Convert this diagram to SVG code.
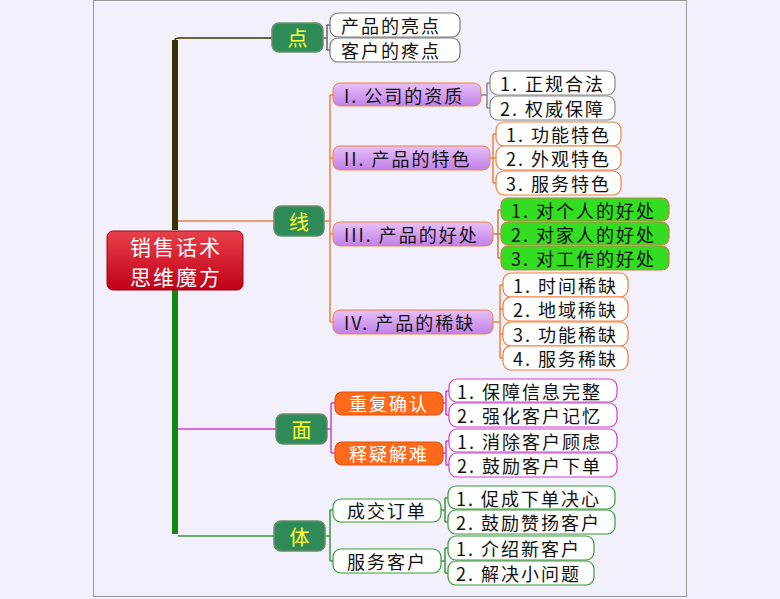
<svg xmlns="http://www.w3.org/2000/svg" width="780" height="599" viewBox="0 0 780 599">
<style>
text{font-family:"Noto Sans CJK SC","Liberation Sans",sans-serif;font-size:18px;dominant-baseline:central;letter-spacing:2px}
.b{fill:#2e8b57;stroke:#6a8f6a;stroke-width:1.5}
.bt{fill:#ffff33;font-size:20px;text-anchor:middle;letter-spacing:0}
.w{fill:#fff;stroke-width:1.2}
.g{fill:#33dd22;stroke:#c08040;stroke-width:1.2}
.o{fill:#ff6a1a;stroke:#e05010;stroke-width:1.2}
.t{fill:#111}
.ot{fill:#fff}
.r{fill:#fff;font-size:21px;text-anchor:middle;letter-spacing:2px}
.c{fill:none;stroke-width:1.5}
</style>
<defs>
<linearGradient id="rg" x1="0" y1="0" x2="0" y2="1"><stop offset="0" stop-color="#e8404a"/><stop offset="1" stop-color="#c00018"/></linearGradient>
<linearGradient id="pg" x1="0" y1="0" x2="0" y2="1"><stop offset="0" stop-color="#e8c0f8"/><stop offset="1" stop-color="#c080e8"/></linearGradient>
</defs>
<rect x="0" y="0" width="780" height="599" fill="#f2f0fa"/>
<rect x="93.5" y="0.5" width="593" height="596" fill="none" stroke="#999" stroke-width="1"/>
<g id="connectors">
<path d="M175 40 Q175 38 180 38 H272" class="c" stroke="#333300"/>
<path d="M175 230 V40" stroke="#333300" stroke-width="6" fill="none"/>
<path d="M175 290 V534" stroke="#118811" stroke-width="6" fill="none"/>
<path d="M178 221 H274" class="c" stroke="#f08040"/>
<path d="M178 429 H276" class="c" stroke="#d040d0"/>
<path d="M178 536 H274" class="c" stroke="#3a9a3a"/>
<path d="M323 38 H327 M327 25 V50 M327 25 H330 M327 50 H330" class="c" stroke="#666"/>
<path d="M324 221 H330 M330 95 V322 M330 95 H333 M330 158 H333 M330 234 H333 M330 322 H333" class="c" stroke="#f08040"/>
<path d="M481 95 H487 M487 83 V108 M487 83 H490 M487 108 H490" class="c" stroke="#888"/>
<path d="M490 158 H493 M493 134 V183 M493 134 H496 M493 158 H496 M493 183 H496" class="c" stroke="#f08040"/>
<path d="M493 234 H498 M498 210 V258 M498 210 H501 M498 234 H501 M498 258 H501" class="c" stroke="#c08040"/>
<path d="M493 322 H500 M500 285 V358 M500 285 H503 M500 309 H503 M500 334 H503 M500 358 H503" class="c" stroke="#f08040"/>
<path d="M327 429 H331 M331 403 V453 M331 403 H335 M331 453 H335" class="c" stroke="#d040d0"/>
<path d="M443 403 H446 M446 391 V415 M446 391 H449 M446 415 H449 M443 453 H446 M446 441 V465 M446 441 H449 M446 465 H449" class="c" stroke="#d040d0"/>
<path d="M325 536 H330 M330 510 V561 M330 510 H333 M330 561 H333" class="c" stroke="#3a9a3a"/>
<path d="M441 510 H445 M445 498 V522 M445 498 H448 M445 522 H448 M441 561 H445 M445 548 V573 M445 548 H448 M445 573 H448" class="c" stroke="#3a9a3a"/>
</g>
<g id="root"><rect x="107" y="231" width="136" height="59" rx="6" fill="url(#rg)" stroke="#a00010"/><text x="176" y="246" class="r">销售话术</text><text x="176" y="276" class="r">思维魔方</text></g>
<g id="dian"><rect x="272" y="23" width="51" height="29" rx="7" class="b"/><text x="297.5" y="37.5" class="bt">点</text></g>
<g id="xian"><rect x="274" y="206" width="50" height="30" rx="7" class="b"/><text x="299" y="221" class="bt">线</text></g>
<g id="mian"><rect x="276" y="414" width="51" height="30" rx="7" class="b"/><text x="301.5" y="429" class="bt">面</text></g>
<g id="ti"><rect x="274" y="521" width="51" height="30" rx="7" class="b"/><text x="299.5" y="536" class="bt">体</text></g>
<g id="d1"><rect x="330" y="13" width="130" height="24" rx="8" class="w" stroke="#777"/><text x="341" y="25" class="t">产品的亮点</text></g>
<g id="d2"><rect x="330" y="38" width="130" height="24" rx="8" class="w" stroke="#777"/><text x="341" y="50" class="t">客户的疼点</text></g>
<g id="x1"><rect x="333" y="83" width="148" height="23" rx="7" fill="url(#pg)" stroke="#f08040"/><text x="344" y="95" class="t">I. 公司的资质</text></g>
<g id="x2"><rect x="333" y="146" width="157" height="24" rx="7" fill="url(#pg)" stroke="#f08040"/><text x="344" y="158" class="t">II. 产品的特色</text></g>
<g id="x3"><rect x="333" y="222" width="160" height="24" rx="7" fill="url(#pg)" stroke="#f08040"/><text x="344" y="234" class="t">III. 产品的好处</text></g>
<g id="x4"><rect x="333" y="310" width="160" height="24" rx="7" fill="url(#pg)" stroke="#f08040"/><text x="344" y="322" class="t">IV. 产品的稀缺</text></g>
<g id="x11"><rect x="490" y="71" width="125" height="24" rx="8" class="w" stroke="#888"/><text x="500" y="83" class="t">1. 正规合法</text></g>
<g id="x12"><rect x="490" y="96" width="125" height="24" rx="8" class="w" stroke="#888"/><text x="500" y="108" class="t">2. 权威保障</text></g>
<g id="x21"><rect x="496" y="122" width="125" height="24" rx="8" class="w" stroke="#f08040"/><text x="506" y="134" class="t">1. 功能特色</text></g>
<g id="x22"><rect x="496" y="146" width="125" height="24" rx="8" class="w" stroke="#f08040"/><text x="506" y="158" class="t">2. 外观特色</text></g>
<g id="x23"><rect x="496" y="171" width="125" height="24" rx="8" class="w" stroke="#f08040"/><text x="506" y="183" class="t">3. 服务特色</text></g>
<g id="x31"><rect x="501" y="198" width="168" height="23" rx="7" class="g"/><text x="511" y="210" class="t">1. 对个人的好处</text></g>
<g id="x32"><rect x="501" y="222" width="168" height="23" rx="7" class="g"/><text x="511" y="234" class="t">2. 对家人的好处</text></g>
<g id="x33"><rect x="501" y="246" width="168" height="24" rx="7" class="g"/><text x="511" y="258" class="t">3. 对工作的好处</text></g>
<g id="x41"><rect x="503" y="273" width="125" height="24" rx="8" class="w" stroke="#f08040"/><text x="513" y="285" class="t">1. 时间稀缺</text></g>
<g id="x42"><rect x="503" y="297" width="125" height="24" rx="8" class="w" stroke="#f08040"/><text x="513" y="309" class="t">2. 地域稀缺</text></g>
<g id="x43"><rect x="503" y="322" width="125" height="24" rx="8" class="w" stroke="#f08040"/><text x="513" y="334" class="t">3. 功能稀缺</text></g>
<g id="x44"><rect x="503" y="346" width="125" height="24" rx="8" class="w" stroke="#f08040"/><text x="513" y="358" class="t">4. 服务稀缺</text></g>
<g id="m1"><rect x="335" y="392" width="108" height="23" rx="7" class="o"/><text x="389" y="403" text-anchor="middle" class="ot">重复确认</text></g>
<g id="m2"><rect x="335" y="442" width="108" height="23" rx="7" class="o"/><text x="389" y="453" text-anchor="middle" class="ot">释疑解难</text></g>
<g id="m11"><rect x="449" y="379" width="168" height="23" rx="8" class="w" stroke="#d040d0"/><text x="457" y="391" class="t">1. 保障信息完整</text></g>
<g id="m12"><rect x="449" y="403" width="168" height="24" rx="8" class="w" stroke="#d040d0"/><text x="457" y="415" class="t">2. 强化客户记忆</text></g>
<g id="m21"><rect x="449" y="429" width="168" height="23" rx="8" class="w" stroke="#d040d0"/><text x="457" y="441" class="t">1. 消除客户顾虑</text></g>
<g id="m22"><rect x="449" y="453" width="168" height="24" rx="8" class="w" stroke="#d040d0"/><text x="457" y="465" class="t">2. 鼓励客户下单</text></g>
<g id="t1"><rect x="333" y="499" width="108" height="23" rx="8" class="w" stroke="#3a9a3a"/><text x="387" y="510" text-anchor="middle" class="t">成交订单</text></g>
<g id="t2"><rect x="333" y="549" width="108" height="24" rx="8" class="w" stroke="#3a9a3a"/><text x="387" y="561" text-anchor="middle" class="t">服务客户</text></g>
<g id="t11"><rect x="448" y="486" width="167" height="23" rx="8" class="w" stroke="#3a9a3a"/><text x="456" y="498" class="t">1. 促成下单决心</text></g>
<g id="t12"><rect x="448" y="510" width="167" height="24" rx="8" class="w" stroke="#3a9a3a"/><text x="456" y="522" class="t">2. 鼓励赞扬客户</text></g>
<g id="t21"><rect x="448" y="536" width="146" height="24" rx="8" class="w" stroke="#3a9a3a"/><text x="456" y="548" class="t">1. 介绍新客户</text></g>
<g id="t22"><rect x="448" y="561" width="146" height="24" rx="8" class="w" stroke="#3a9a3a"/><text x="456" y="573" class="t">2. 解决小问题</text></g>
</svg>
